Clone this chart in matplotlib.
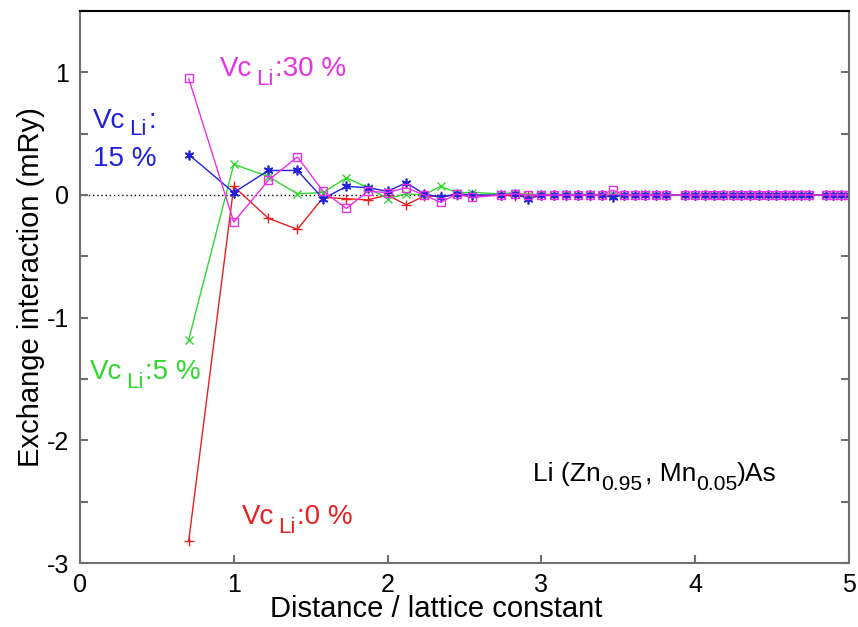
import matplotlib
matplotlib.use("Agg")
import matplotlib.pyplot as plt
from matplotlib.ticker import MultipleLocator

plt.rcParams['font.family'] = ['Liberation Sans', 'DejaVu Sans']
plt.rcParams['axes.unicode_minus'] = False

# distances of the neighbour shells (lattice constant units)
dist = [0.707, 1.0, 1.225, 1.414, 1.581, 1.732, 1.871, 2.0, 2.121, 2.236,
        2.345, 2.449, 2.550, 2.739, 2.828, 2.915, 3.0, 3.082, 3.162, 3.240,
        3.317, 3.391, 3.464, 3.536, 3.606, 3.674, 3.742, 3.808, 3.937, 4.0,
        4.062, 4.123, 4.183, 4.243, 4.301, 4.359, 4.416, 4.472, 4.528, 4.583,
        4.637, 4.690, 4.743, 4.848, 4.899, 4.950, 5.0]

# exchange interactions (mRy)
j_0 = [-2.82, 0.07, -0.19, -0.28, -0.02, -0.03, -0.04, 0.0, -0.08, -0.01,
       -0.01, 0.0, -0.01, 0.0, -0.01, -0.01, 0.0, 0.0, 0.0, 0.0,
       0.0, 0.0, 0.0, 0.0, 0.0, 0.0, 0.0, 0.0, 0.0, 0.0,
       0.0, 0.0, 0.0, 0.0, 0.0, 0.0, 0.0, 0.0, 0.0, 0.0,
       0.0, 0.0, 0.0, 0.0, 0.0, 0.0, 0.0]
j_5 = [-1.18, 0.25, 0.15, 0.01, 0.02, 0.14, 0.06, -0.03, 0.01, 0.0,
       0.07, 0.02, 0.02, 0.01, 0.02, 0.0, 0.01, 0.0, 0.01, 0.0,
       0.01, 0.0, 0.01, 0.0, 0.0, 0.01, 0.0, 0.0, 0.0, 0.0,
       0.0, 0.0, 0.0, 0.0, 0.0, 0.0, 0.0, 0.0, 0.0, 0.0,
       0.0, 0.0, 0.0, 0.0, 0.0, 0.0, 0.0]
j_15 = [0.33, 0.02, 0.20, 0.20, -0.03, 0.07, 0.06, 0.03, 0.10, 0.01,
        -0.02, 0.01, 0.0, 0.0, 0.01, -0.03, 0.0, 0.0, 0.0, 0.0,
        0.0, 0.0, -0.02, 0.0, 0.0, 0.0, 0.0, 0.0, 0.0, 0.0,
        0.0, 0.0, 0.0, 0.0, 0.0, 0.0, 0.0, 0.0, 0.0, 0.0,
        0.0, 0.0, 0.0, 0.0, 0.0, 0.0, 0.0]
j_30 = [0.95, -0.22, 0.12, 0.31, 0.03, -0.11, 0.03, 0.02, 0.06, 0.0,
        -0.06, 0.01, -0.02, 0.0, 0.01, 0.0, 0.0, 0.0, 0.0, 0.0,
        0.0, 0.0, 0.04, 0.0, 0.0, 0.0, 0.0, 0.0, 0.0, 0.0,
        0.0, 0.0, 0.0, 0.0, 0.0, 0.0, 0.0, 0.0, 0.0, 0.0,
        0.0, 0.0, 0.0, 0.0, 0.0, 0.0, 0.0]

red = '#e82020'
green = '#30d830'
blue = '#2020d8'
magenta = '#e830e8'


def rich_text(ax, x, y, parts, color, size, drop=0.3):
    # parts: (text, subscript?, extra gap in points) placed one after another
    prev = None
    prev_dy = 0
    for txt, sub, gap in parts:
        fs = size * 0.8 if sub else size
        dy = -drop * size if sub else 0
        if prev is None:
            prev = ax.text(x, y, txt, fontsize=fs, color=color, va='baseline')
        else:
            prev = ax.annotate(txt, xy=(1, 0), xycoords=prev,
                               xytext=(gap, dy - prev_dy), textcoords='offset points',
                               fontsize=fs, color=color, va='bottom')
        prev_dy = dy


fig = plt.figure(figsize=(8.58, 6.27), dpi=100)
ax = fig.add_axes([0.0932, 0.102, 0.8963, 0.8805])

ax.axhline(0, color='black', lw=1, ls=(0, (1, 2)), zorder=1)

ax.plot(dist, j_0, color=red, lw=1, marker='+', ms=7, mew=1)
ax.plot(dist, j_5, color=green, lw=1, marker='x', ms=6, mew=1)
ax.plot(dist, j_15, color=blue, lw=1, marker=(6, 2, 0), ms=7, mew=1.2)
ax.plot(dist, j_30, color=magenta, lw=1, marker='s', ms=6, mew=1, mfc='none')

ax.set_xlim(0, 5)
ax.set_ylim(-3, 1.5)
ax.xaxis.set_major_locator(MultipleLocator(1))
ax.yaxis.set_minor_locator(MultipleLocator(0.5))
ax.set_yticks([-3, -2, -1, 0, 1])

for s in ['left', 'bottom', 'right']:
    ax.spines[s].set_color('#707070')
    ax.spines[s].set_linewidth(1.5)
ax.spines['top'].set_color('black')
ax.spines['top'].set_linewidth(1.5)

ax.tick_params(which='both', direction='in', color='#707070', width=1.5,
               right=True, top=False, labelsize=18, length=6)
ax.tick_params(axis='x', pad=7)
ax.tick_params(axis='y', pad=8)

ax.set_xlabel('Distance / lattice constant', fontsize=21)
ax.xaxis.set_label_coords(0.463, -0.058)
ax.set_ylabel('Exchange interaction (mRy)', fontsize=21, labelpad=1)

rich_text(ax, 0.91, 0.97, [('Vc', False, 0), ('Li', True, 3), (':30 %', False, 1)], magenta, 20)
rich_text(ax, 0.085, 0.55, [('Vc', False, 0), ('Li', True, 3), (':', False, 1)], blue, 20, drop=0.22)
ax.text(0.085, 0.24, '15 %', color=blue, fontsize=20, va='baseline')
rich_text(ax, 0.065, -1.50, [('Vc', False, 0), ('Li', True, 3), (':5 %', False, 1)], green, 20)
rich_text(ax, 1.05, -2.68, [('Vc', False, 0), ('Li', True, 3), (':0 %', False, 1)], red, 20)
rich_text(ax, 2.945, -2.33, [('Li (Zn', False, 0), ('0.95', True, 0), (', Mn', False, 2),
                             ('0.05', True, 0), (')As', False, 0)], 'black', 19)

fig.savefig('out.png', dpi=100)
